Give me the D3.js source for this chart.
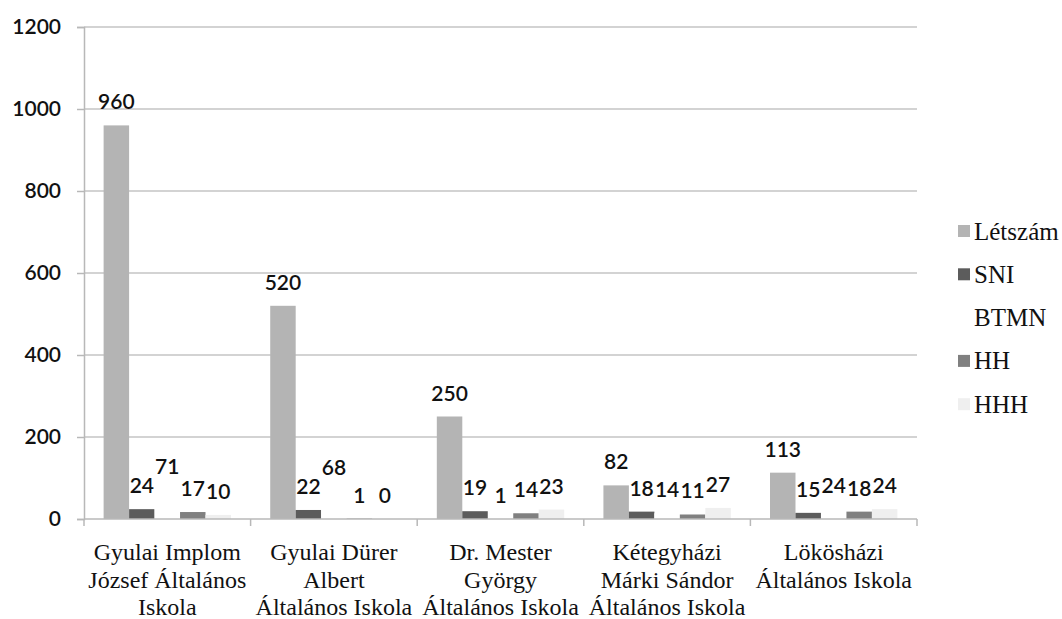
<!DOCTYPE html>
<html>
<head>
<meta charset="utf-8">
<script src="https://cdn.jsdelivr.net/npm/d3@7"></script>
<style>
  html, body { margin: 0; padding: 0; background: #fff; }
  svg { display: block; }
</style>
</head>
<body>
<svg id="chart" width="1062" height="619"></svg>
<script>
// School names (each entry is the wrapped lines of one category label)
const categories = [
  ["Gyulai Implom", "József Általános", "Iskola"],
  ["Gyulai Dürer", "Albert", "Általános Iskola"],
  ["Dr. Mester", "György", "Általános Iskola"],
  ["Kétegyházi", "Márki Sándor", "Általános Iskola"],
  ["Lökösházi", "Általános Iskola"]
];
const seriesNames = ["Létszám", "SNI", "BTMN", "HH", "HHH"];

// Values per series, one entry per school
const letszam = [960, 520, 250, 82, 113];
const sni     = [24, 22, 19, 18, 15];
const btmn    = [71, 68, 1, 14, 24];
const hh      = [17, 1, 14, 11, 18];
const hhh     = [10, 0, 23, 27, 24];

const yTicks = [0, 200, 400, 600, 800, 1000, 1200];

const seriesValues = [letszam, sni, btmn, hh, hhh];
const seriesColors = ["#b4b4b4", "#5c5c5c", "#ffffff", "#808080", "#efefef"];

const svg = d3.select("#chart");
const plotLeft = 84, plotRight = 917, plotTop = 27, plotBottom = 519;

const catKeys = categories.map(c => c.join(" "));
const x0 = d3.scaleBand().domain(catKeys).range([plotLeft, plotRight]).padding(0);
const x1 = d3.scaleBand().domain(seriesNames).range([0, x0.bandwidth()])
  .paddingInner(0).paddingOuter(0.77);
const y = d3.scaleLinear().domain([0, 1200]).range([plotBottom, plotTop]);

// Horizontal gridlines
svg.append("g").selectAll("line").data(yTicks.filter(d => d > 0)).join("line")
  .attr("x1", plotLeft).attr("x2", plotRight)
  .attr("y1", d => y(d)).attr("y2", d => y(d))
  .attr("stroke", "#c4c4c4").attr("stroke-width", 1.5);

// Y axis
const yAxis = svg.append("g").attr("transform", `translate(${plotLeft},0)`)
  .call(d3.axisLeft(y).tickValues(yTicks).tickFormat(d3.format("d"))
    .tickSize(7).tickPadding(16));
yAxis.select(".domain").attr("stroke", "#b8b8b8").attr("stroke-width", 1.5);
yAxis.selectAll(".tick line").attr("stroke", "#b8b8b8").attr("stroke-width", 1.5);
yAxis.selectAll(".tick text")
  .attr("font-family", "Lato, 'Open Sans', sans-serif")
  .attr("font-size", 21).attr("font-weight", 600).attr("fill", "#111");

// Bars with value labels
const groups = svg.append("g").selectAll("g").data(catKeys).join("g")
  .attr("transform", d => `translate(${x0(d)},0)`);

const barData = i => seriesNames.map((s, j) => ({ s, v: seriesValues[j][i], c: seriesColors[j] }));

groups.each(function (k, i) {
  const g = d3.select(this);
  const data = barData(i);
  g.selectAll("rect").data(data).join("rect")
    .attr("x", d => x1(d.s))
    .attr("width", x1.bandwidth())
    .attr("y", d => y(d.v))
    .attr("height", d => y(0) - y(d.v))
    .attr("fill", d => d.c);
  g.selectAll("text").data(data).join("text")
    .attr("x", d => x1(d.s) + x1.bandwidth() / 2)
    .attr("y", d => y(d.v) - 16)
    .attr("text-anchor", "middle")
    .attr("font-family", "Lato, 'Open Sans', sans-serif")
    .attr("font-size", 21).attr("font-weight", 600).attr("fill", "#111")
    .text(d => d.v);
});

// X axis line and boundary ticks
const xAxis = svg.append("g");
xAxis.append("line").attr("x1", plotLeft).attr("x2", plotRight)
  .attr("y1", plotBottom).attr("y2", plotBottom)
  .attr("stroke", "#b8b8b8").attr("stroke-width", 1.5);
const boundaries = catKeys.map(k => x0(k)).concat([plotRight]);
xAxis.selectAll("line.tk").data(boundaries).join("line").attr("class", "tk")
  .attr("x1", d => d).attr("x2", d => d)
  .attr("y1", plotBottom).attr("y2", plotBottom + 7)
  .attr("stroke", "#b8b8b8").attr("stroke-width", 1.5);

// Category labels
const catLabels = svg.append("g").selectAll("text").data(categories).join("text")
  .attr("text-anchor", "middle")
  .attr("font-family", "'Liberation Serif', 'Times New Roman', serif")
  .attr("font-size", 24).attr("fill", "#111")
  .attr("transform", (d, i) => `translate(${x0(catKeys[i]) + x0.bandwidth() / 2},0)`);
catLabels.selectAll("tspan").data(d => d).join("tspan")
  .attr("x", 0)
  .attr("y", (d, j) => 560 + j * 27.5)
  .text(d => d);

// Legend
const legend = svg.append("g").selectAll("g").data(seriesNames).join("g")
  .attr("transform", (d, i) => `translate(958,${231 + i * 43.3})`);
legend.append("rect")
  .attr("x", 0).attr("y", -6).attr("width", 12).attr("height", 12)
  .attr("fill", (d, i) => seriesColors[i]);
legend.append("text")
  .attr("x", 16).attr("y", 8.5)
  .attr("font-family", "'Liberation Serif', 'Times New Roman', serif")
  .attr("font-size", 25).attr("fill", "#111")
  .text(d => d);
</script>
</body>
</html>
